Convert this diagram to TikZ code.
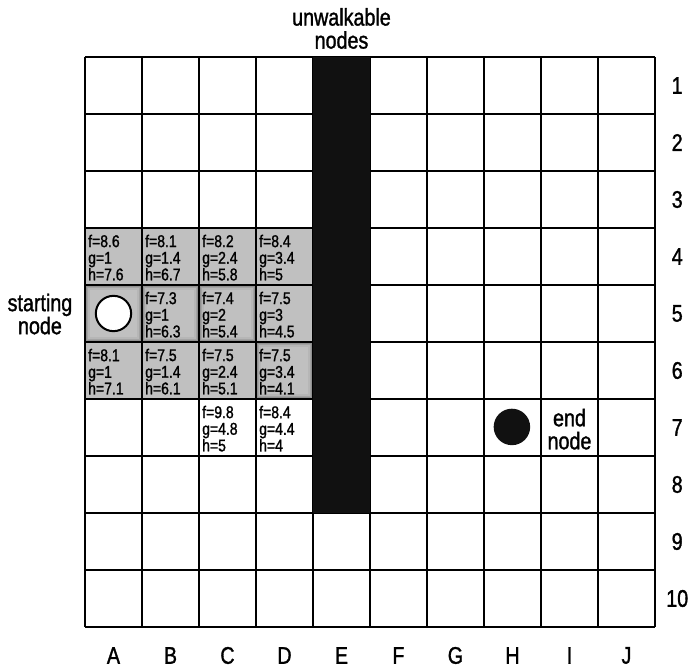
\documentclass[tikz,border=0pt]{standalone}
\usepackage{fontspec}
\setmainfont{Liberation Sans}[FakeStretch=0.82, RawFeature={embolden=1.3}]
\usepackage{xcolor}
\usetikzlibrary{positioning}
\definecolor{celula}{RGB}{192,192,192}
\definecolor{bloqueio}{RGB}{17,17,17}

\begin{document}
\begin{tikzpicture}[x=1cm, y=-1cm,
    rotulo/.style={font=\fontsize{12}{11.5}\selectfont, align=center, inner sep=0pt},
    custo/.style={anchor=west, align=left, inner sep=0pt, font=\fontsize{8.5}{8.3}\selectfont},
    brilho/.style={draw=black, line width=1.2pt, opacity=#1}]
    \useasboundingbox (-1.491,-1.0) rectangle (10.632,10.702);
    % Visited cells
    \fill[celula] (0,3) rectangle (4,6);
    \foreach \c/\r in {0/5,1/5,2/5,3/6} {
        \foreach \d/\o in {0.02/0.16,0.04/0.10,0.06/0.05} {
            \draw[brilho=\o] (\c+\d,\r-1+\d) rectangle (\c+1-\d,\r-\d);
        }
    }
    % Grid
    \draw[line width=1pt] (0,0) grid (10,10);
    % Unwalkable column
    \fill[bloqueio] (4,0) rectangle (5,8);
    \node[rotulo] (bloqueados) at (4.5,-0.5) {unwalkable\\nodes};
    % Column and row labels
    \foreach \c [count=\i from 0] in {A,B,C,D,E,F,G,H,I,J} {
        \node[rotulo] (col-\c) at (\i+0.5,10.5) {\c};
    }
    \foreach \r in {1,...,10} {
        \node[rotulo] (lin-\r) at (10.39,\r-0.5) {\r};
    }
    % Costs f, g, h
    \foreach \c/\r/\f/\g/\h in {0/4/8.6/1/7.6, 1/4/8.1/1.4/6.7, 2/4/8.2/2.4/5.8, 3/4/8.4/3.4/5,
        1/5/7.3/1/6.3, 2/5/7.4/2/5.4, 3/5/7.5/3/4.5,
        0/6/8.1/1/7.1, 1/6/7.5/1.4/6.1, 2/6/7.5/2.4/5.1, 3/6/7.5/3.4/4.1,
        2/7/9.8/4.8/5, 3/7/8.4/4.4/4} {
        \node[custo] (custo-\c-\r) at (\c+0.05,\r-0.48) {f=\f\\g=\g\\h=\h};
    }
    % Start and end
    \node[circle, draw, fill=white, line width=1pt, minimum size=0.62cm, inner sep=0pt] (inicio) at (0.5,4.5) {};
    \node[rotulo] (inicio-txt) at (-0.79,4.51) {starting\\node};
    \node[circle, fill=bloqueio, minimum size=0.64cm, inner sep=0pt] (fim) at (7.49,6.49) {};
    \node[rotulo] (fim-txt) at (8.5,6.53) {end\\node};
\end{tikzpicture}
\end{document}
